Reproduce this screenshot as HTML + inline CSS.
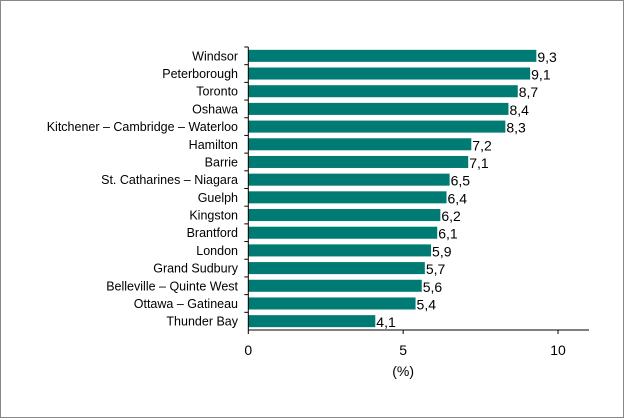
<!DOCTYPE html>
<html><head><meta charset="utf-8"><style>
body{margin:0;background:#fff}
svg{display:block;font-family:"Liberation Sans",Arial,sans-serif}
</style></head><body>
<svg id="c" width="624" height="418">
<rect x="0.5" y="0.5" width="623" height="417" fill="#fff" stroke="#888"/>
</svg>
<script>
const categories=["Windsor","Peterborough","Toronto","Oshawa","Kitchener – Cambridge – Waterloo","Hamilton","Barrie","St. Catharines – Niagara","Guelph","Kingston","Brantford","London","Grand Sudbury","Belleville – Quinte West","Ottawa – Gatineau","Thunder Bay"];
const values=[9.3,9.1,8.7,8.4,8.3,7.2,7.1,6.5,6.4,6.2,6.1,5.9,5.7,5.6,5.4,4.1];
const valueLabels=["9,3","9,1","8,7","8,4","8,3","7,2","7,1","6,5","6,4","6,2","6,1","5,9","5,7","5,6","5,4","4,1"];
const xTicks=[0,5,10];
const X0=248.3,XMAX=11,XR=589,TOP=47,BOT=330;
const xs=v=>X0+v*(XR-X0)/XMAX;
const band=(BOT-TOP)/categories.length;
const ys=i=>TOP+i*band;
const svg=document.getElementById('c');const NS='http://www.w3.org/2000/svg';
function mk(t,a,txt){const e=document.createElementNS(NS,t);for(const k in a)e.setAttribute(k,a[k]);if(txt!==undefined)e.textContent=txt;svg.appendChild(e);return e;}
categories.forEach((c,i)=>{
 const y=ys(i),bh=band*0.68,by=y+(band-bh)/2;
 const r=mk('rect',{x:X0,y:by,width:xs(values[i])-X0,height:bh,fill:'#007b73'});
 
 
 const l=mk('text',{x:238,y:y+band/2+4.5,'text-anchor':'end','font-size':12.5,fill:'#000'},c);
 
 
 const v=mk('text',{x:xs(values[i])+1,y:y+band/2+6,'font-size':14,fill:'#000'},valueLabels[i]);
 
 
 const t=mk('line',{x1:X0-4,x2:X0,y1:y,y2:y,stroke:'#000'});
 
 
});
const ya=mk('line',{x1:X0,x2:X0,y1:TOP,y2:BOT,stroke:'#000'});


const xa=mk('line',{x1:X0,x2:XR,y1:BOT,y2:BOT,stroke:'#000'});


xTicks.forEach(v=>{
 const t=mk('line',{x1:xs(v),x2:xs(v),y1:BOT,y2:BOT+4,stroke:'#000'});
 
 
 const l=mk('text',{x:xs(v),y:355,'text-anchor':'middle','font-size':14},String(v));
 
 
});
const xt=mk('text',{x:xs(5),y:376,'text-anchor':'middle','font-size':14},'(%)');


</script>
</body></html>
